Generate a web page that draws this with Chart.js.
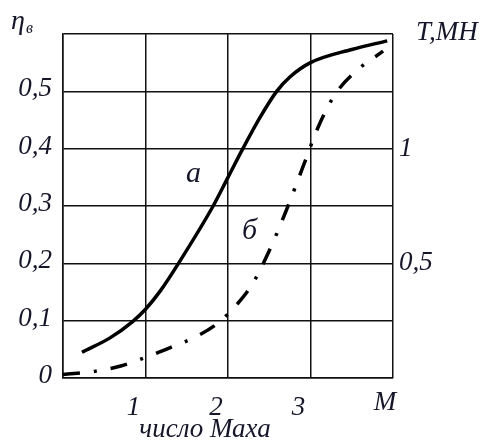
<!DOCTYPE html>
<html>
<head>
<meta charset="utf-8">
<script src="https://cdn.jsdelivr.net/npm/chart.js@4/dist/chart.umd.min.js"></script>
<style>
  html, body { margin: 0; padding: 0; background: #fff; }
  #wrap { width: 493px; height: 441px; position: relative; }
</style>
</head>
<body>
<div id="wrap"><canvas id="c"></canvas></div>
<script>
// кривая а (сплошная) — КПД
const machA = [0.23, 0.57, 0.84, 1.0, 1.18, 1.4, 1.82, 2.0, 2.18, 2.39, 2.59, 2.75, 3.0, 3.5, 3.93];
const etaA  = [0.045, 0.07, 0.098, 0.12, 0.152, 0.2, 0.3, 0.35, 0.4, 0.455, 0.5, 0.525, 0.55, 0.573, 0.588];

// кривая б (штрих-пунктир) — тяга
const machB = [0, 0.4, 0.7, 1.02, 1.3, 1.61, 1.87, 2.1, 2.3, 2.5, 2.7, 2.9, 3.1, 3.3, 3.55, 3.88];
const etaB  = [0.006, 0.012, 0.021, 0.037, 0.053, 0.072, 0.095, 0.127, 0.165, 0.222, 0.29, 0.365, 0.44, 0.495, 0.535, 0.57];

const xTicks = [1, 2, 3];
const yTicks = [0, 0.1, 0.2, 0.3, 0.4, 0.5];
const yTickLabels = ['0', '0,1', '0,2', '0,3', '0,4', '0,5'];
const rightTicks = [0.5, 1];
const rightTickLabels = ['0,5', '1'];

const textColor = '#16162a';
const font = (size) => `italic ${size}px "Liberation Serif", "DejaVu Serif", serif`;

const labelsPlugin = {
  id: 'labels',
  afterDraw(chart) {
    const { ctx } = chart;
    const x = chart.scales.x, y = chart.scales.y, y2 = chart.scales.y2;
    ctx.save();
    ctx.fillStyle = textColor;
    ctx.font = font(27);

    // ось X
    ctx.textAlign = 'center';
    ctx.textBaseline = 'alphabetic';
    xTicks.forEach(v => ctx.fillText(String(v), x.getPixelForValue(v) - 12, 415));
    ctx.fillText('M', x.right - 8, 410);
    ctx.fillText('число Маха', 205, 437);

    // левая ось
    ctx.textAlign = 'right';
    ctx.textBaseline = 'middle';
    yTicks.forEach((v, i) => ctx.fillText(yTickLabels[i], 52, y.getPixelForValue(v) - 2));

    // правая ось
    ctx.textAlign = 'left';
    rightTicks.forEach((v, i) => ctx.fillText(rightTickLabels[i], x.right + 6, y2.getPixelForValue(v)));

    ctx.textBaseline = 'alphabetic';
    ctx.fillText('T,MH', 416, 40);

    ctx.font = font(28);
    ctx.fillText('η', 11, 29);
    ctx.font = font(16);
    ctx.fillText('в', 26, 33);

    ctx.font = font(30);
    ctx.fillText('а', 186, 182);
    ctx.fillText('б', 242, 239);
    ctx.restore();
  }
};

new Chart(document.getElementById('c'), {
  type: 'line',
  data: {
    datasets: [
      {
        label: 'а',
        data: machA.map((m, i) => ({ x: m, y: etaA[i] })),
        borderColor: '#000',
        borderWidth: 3.5,
        pointRadius: 0,
        cubicInterpolationMode: 'monotone',
        fill: false,
      },
      {
        label: 'б',
        data: machB.map((m, i) => ({ x: m, y: etaB[i] })),
        borderColor: '#000',
        borderWidth: 3.5,
        borderDash: [17, 14, 3, 14],
        pointRadius: 0,
        cubicInterpolationMode: 'monotone',
        fill: false,
      },
    ],
  },
  options: {
    responsive: true,
    maintainAspectRatio: false,
    animation: false,
    layout: { padding: { left: 63, right: 100, top: 34, bottom: 63 } },
    plugins: { legend: { display: false }, tooltip: { enabled: false } },
    scales: {
      x: {
        type: 'linear', min: 0, max: 4,
        ticks: { display: false, stepSize: 1 },
        grid: { color: '#111', lineWidth: 1.5, drawTicks: false },
        border: { color: '#111', width: 1.5 },
      },
      y: {
        min: 0, max: 0.6,
        ticks: { display: false, stepSize: 0.1 },
        grid: { color: '#111', lineWidth: 1.5, drawTicks: false },
        border: { color: '#111', width: 1.5 },
      },
      y2: {
        position: 'right', min: 0, max: 1.5,
        display: false,
      },
    },
  },
  plugins: [labelsPlugin],
});
</script>
</body>
</html>
